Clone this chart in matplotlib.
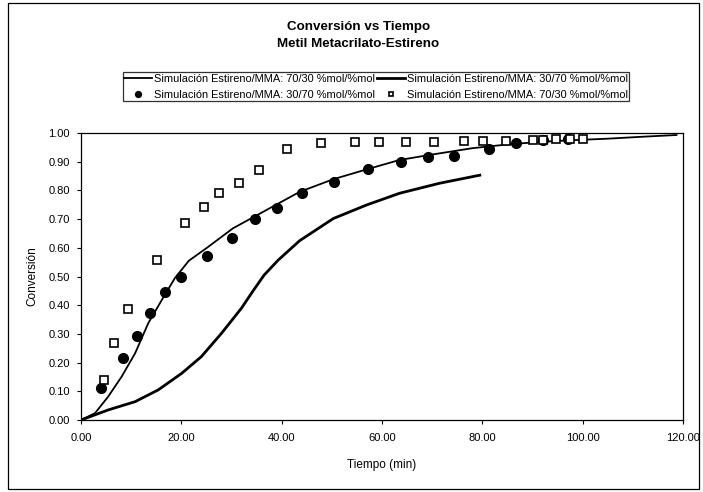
import matplotlib.pyplot as plt
import numpy as np

plt.rcParams['font.family'] = ['Liberation Sans', 'DejaVu Sans']

# simulated curves
t_sim_a = [0, 2.8, 5.4, 8.1, 10.8, 13.4, 16.1, 18.7, 21.5, 25.1, 30.3, 37.0, 43.6, 50.3, 56.9, 63.5, 70, 78, 85, 91.4, 98, 104.8, 112, 118.7]
x_sim_a = [0, 0.024, 0.081, 0.151, 0.233, 0.337, 0.418, 0.494, 0.555, 0.60, 0.668, 0.732, 0.795, 0.839, 0.873, 0.906, 0.925, 0.947, 0.96, 0.969, 0.975, 0.98, 0.987, 0.993]

t_sim_b = [0, 5.4, 10.8, 15.4, 20.1, 24.0, 28.0, 32.0, 34.3, 36.5, 39.3, 43.6, 50.3, 56.9, 63.5, 71.5, 79.5]
x_sim_b = [0, 0.035, 0.064, 0.105, 0.163, 0.221, 0.302, 0.39, 0.45, 0.505, 0.557, 0.625, 0.702, 0.749, 0.79, 0.825, 0.853]

# markers
t_circ = [3.9, 8.4, 11.1, 13.8, 16.8, 19.9, 25.2, 30.1, 34.6, 39.1, 44.0, 50.4, 57.2, 63.7, 69.1, 74.3, 81.3, 86.7, 92.0, 97.0]
x_circ = [0.11, 0.215, 0.293, 0.374, 0.445, 0.50, 0.571, 0.635, 0.70, 0.74, 0.79, 0.83, 0.875, 0.90, 0.915, 0.92, 0.945, 0.965, 0.975, 0.98]

t_sq = [4.6, 6.6, 9.4, 15.2, 20.8, 24.5, 27.6, 31.5, 35.5, 41.0, 47.8, 54.6, 59.4, 64.7, 70.3, 76.3, 80.1, 84.7, 90.0, 92.0, 94.6, 97.4, 100.0]
x_sq = [0.139, 0.267, 0.386, 0.557, 0.686, 0.742, 0.79, 0.825, 0.871, 0.944, 0.965, 0.967, 0.97, 0.97, 0.97, 0.973, 0.973, 0.973, 0.975, 0.977, 0.978, 0.978, 0.978]

fig = plt.figure(figsize=(7.03, 4.92), dpi=100)
ax = fig.add_axes([0.1152, 0.1463, 0.8564, 0.5834])

l1, = ax.plot(t_sim_a, x_sim_a, color="black", lw=1.3,
              label="Simulación Estireno/MMA: 70/30 %mol/%mol")
l2, = ax.plot(t_sim_b, x_sim_b, color="black", lw=2.0,
              label="Simulación Estireno/MMA: 30/70 %mol/%mol")
p1, = ax.plot(t_circ, x_circ, "o", color="black", ms=7, ls="none",
              label="Simulación Estireno/MMA: 30/70 %mol/%mol")
p2, = ax.plot(t_sq, x_sq, "s", mfc="white", mec="black", mew=1.2, ms=6, ls="none",
              label="Simulación Estireno/MMA: 70/30 %mol/%mol")

ax.set_xlim(0, 120)
ax.set_ylim(0, 1.0)
ax.set_xticks(np.arange(0, 121, 20))
ax.set_yticks(np.arange(0, 1.01, 0.1))
ax.set_xticklabels([f"{v:.2f}" for v in np.arange(0, 121, 20)])
ax.set_yticklabels([f"{v:.2f}" for v in np.arange(0, 1.01, 0.1)])
ax.tick_params(labelsize=8, length=3, width=0.8)
ax.tick_params(axis="x", pad=6)
ax.tick_params(axis="y", pad=5)
for s in ax.spines.values():
    s.set_linewidth(0.9)

ax.set_xlabel("Tiempo (min)", fontsize=8.5, labelpad=12)
ax.set_ylabel("Conversión", fontsize=8.5, labelpad=7)

fig.text(0.51, 0.945, "Conversión vs Tiempo", ha="center", va="center", fontsize=9.6, fontweight="bold")
fig.text(0.51, 0.911, "Metil Metacrilato-Estireno", ha="center", va="center", fontsize=9.6, fontweight="bold")

leg = fig.legend([l1, p1, l2, p2], [h.get_label() for h in [l1, p1, l2, p2]],
                 ncol=2, loc="center", bbox_to_anchor=(0.535, 0.824), fontsize=7.9,
                 frameon=True, fancybox=False, edgecolor="black", handlelength=2.5,
                 columnspacing=0.2, handletextpad=0.2, borderpad=0.15, labelspacing=0.55,
                 borderaxespad=0, markerscale=0.6)
leg.get_frame().set_linewidth(0.9)

# outer chart border
fig.add_artist(plt.Rectangle((0.012, 0.006), 0.982, 0.988, transform=fig.transFigure,
                             fill=False, edgecolor="black", lw=0.9))

fig.savefig("out.png", dpi=100)
